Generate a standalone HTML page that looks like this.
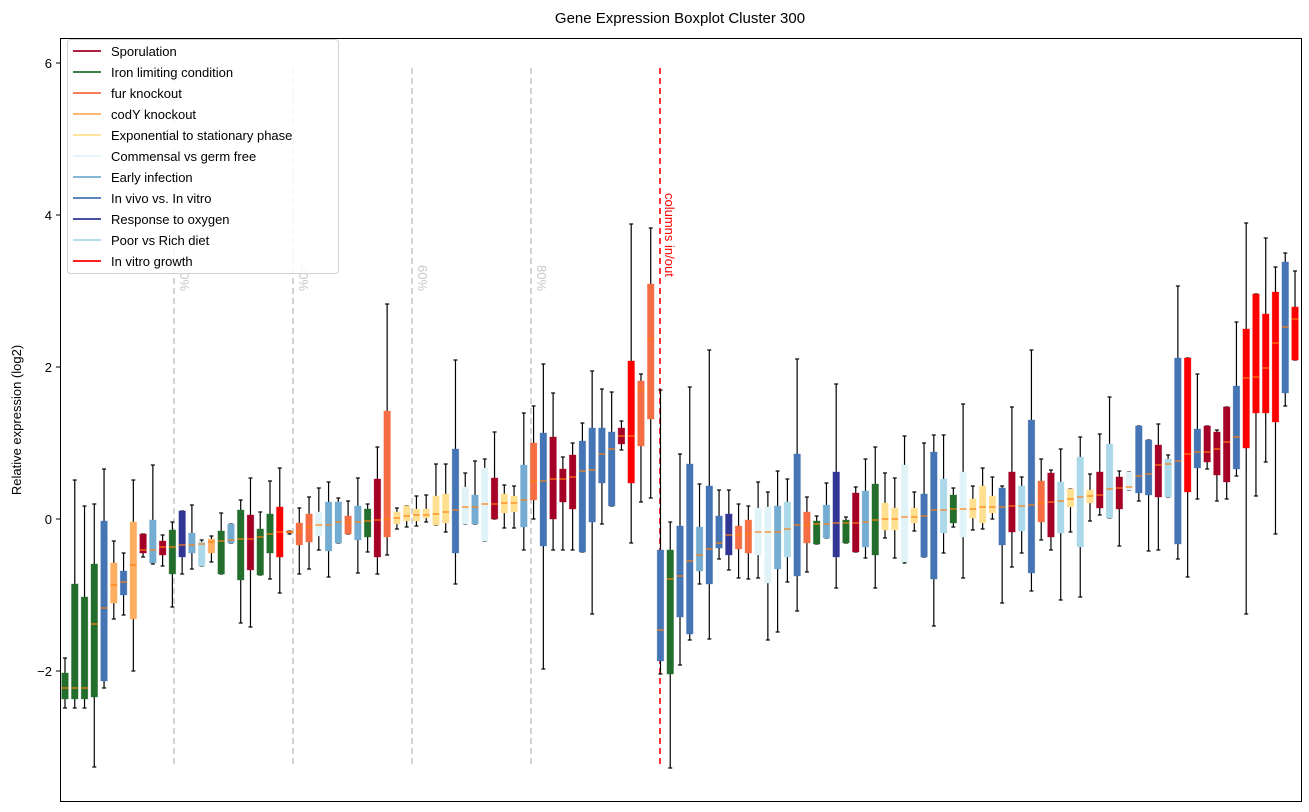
<!DOCTYPE html>
<html><head><meta charset="utf-8"><style>
html,body{margin:0;padding:0;background:#fff;}
svg{display:block;font-family:"Liberation Sans","DejaVu Sans",sans-serif;}
</style></head><body>
<svg id="s" width="1309" height="812" viewBox="0 0 1309 812" xmlns="http://www.w3.org/2000/svg">
<rect width="1309" height="812" fill="#fff"/>
<text x="680" y="23" font-size="15" text-anchor="middle" fill="#000">Gene Expression Boxplot Cluster 300</text>
<text transform="translate(21,420) rotate(-90)" font-size="13" text-anchor="middle">Relative expression (log2)</text>
<g id="g"></g>
<rect x="60.5" y="38.5" width="1241" height="763" fill="none" stroke="#000" stroke-width="1"/>
<g font-size="13" text-anchor="end">
<line x1="56" y1="63" x2="60" y2="63" stroke="#000"/><text x="52" y="68">6</text>
<line x1="56" y1="215" x2="60" y2="215" stroke="#000"/><text x="52" y="220">4</text>
<line x1="56" y1="367" x2="60" y2="367" stroke="#000"/><text x="52" y="372">2</text>
<line x1="56" y1="519" x2="60" y2="519" stroke="#000"/><text x="52" y="524">0</text>
<line x1="56" y1="671" x2="60" y2="671" stroke="#000"/><text x="52" y="676">−2</text>
</g>
<g id="leg"></g>
</svg>
<script>
var C={S:"#a50026",G:"#236e2c",F:"#f46d43",C:"#fdae61",E:"#fee090",P:"#e0f3f8",K:"#74add1",B:"#4575b4",N:"#313695",L:"#abd9e9",R:"#ff0000"};
var D="G 658 673 688 699 708|G 480 584 688 699 708|G 506 597 688 699 708|G 504 564 624 697 767|B 469 521 608 681 688|C 541 563 585 603 619|B 553 571 582 595 615|C 480 522 565 619 671|S 534 534 550 553 557|K 465 520 550 563 564|S 535 541 547 555 566|G 522 530 547 574 607|N 511 511 545 557 574|K 505 533 545 553 569|L 540 542 544 566 566|C 536 539 542 553 562|G 513 531 541 574 574|K 524 524 540 543 543|G 500 510 539 580 623|S 478 515 539 570 627|G 512 529 537 575 575|G 481 514 534 553 579|R 468 507 532 557 593|F 531 531 532 533 534|F 508 523 532 545 574|F 497 514 527 542 569|P 488 512 525 536 550|K 482 502 525 551 577|K 498 502 522 543 543|F 501 516 522 534 534|K 478 506 522 540 573|G 504 509 521 537 552|S 447 479 520 557 574|F 304 411 519 537 555|E 508 512 518 524 529|E 506 506 516 521 527|E 496 509 515 521 526|E 495 509 515 518 522|E 464 496 514 525 525|E 464 494 512 523 532|B 360 449 510 553 584|P 473 487 507 524 524|K 461 495 507 524 524|P 459 468 504 541 541|S 432 478 504 519 519|E 485 494 503 513 528|E 486 496 503 512 528|K 413 465 500 527 550|F 406 443 481 500 519|B 364 433 481 546 669|S 393 437 479 519 550|S 457 469 479 502 550|S 443 455 477 509 550|B 423 441 471 552 552|B 371 428 470 522 614|B 389 428 454 483 524|B 392 432 449 506 506|S 421 428 436 444 450|R 224 361 436 483 543|F 374 381 390 446 502|F 228 284 339 419 498|B 390 550 630 661 674|G 522 550 579 674 768|B 454 526 576 617 665|B 387 464 561 634 640|K 484 527 555 571 584|B 350 486 549 584 639|B 490 516 543 548 559|N 490 514 535 555 570|F 504 526 535 549 578|F 506 520 534 553 579|P 482 508 532 555 578|P 492 507 532 583 640|K 471 506 532 569 632|L 479 502 529 557 582|B 359 454 525 576 611|F 497 512 525 543 572|G 516 521 524 544 544|K 483 505 524 538 538|N 384 472 523 557 588|G 517 520 523 543 543|S 487 493 523 552 552|K 459 491 522 547 558|G 447 484 520 555 588|E 473 503 519 530 538|E 478 508 519 530 558|P 436 465 517 562 563|E 492 508 517 523 531|B 443 494 516 557 557|B 435 452 510 579 626|L 435 479 510 533 553|G 488 495 509 523 527|P 404 472 509 537 578|E 486 499 509 518 530|E 468 486 507 523 529|E 477 496 507 513 519|B 486 488 507 545 603|S 407 472 506 532 567|L 477 486 506 531 553|B 350 420 505 573 591|F 459 481 503 522 540|S 470 473 502 537 550|L 449 482 501 533 600|E 489 489 499 507 532|L 437 457 497 547 597|E 474 490 496 503 521|S 434 472 495 508 515|L 397 444 489 518 518|S 471 477 488 509 546|P 472 472 487 490 490|B 426 426 476 493 501|B 440 440 474 495 551|S 424 445 465 497 550|L 455 459 464 497 497|B 286 358 461 544 559|R 358 358 454 492 577|B 374 429 452 468 499|S 426 426 452 462 469|S 430 432 449 475 501|S 407 407 442 482 499|B 322 386 437 469 476|R 223 329 378 448 614|R 294 294 377 413 496|R 238 314 368 413 462|R 267 292 343 422 534|B 253 262 327 393 406|R 271 307 319 360 360";
var h="";
[174,293,412,531].forEach(function(x,i){
 h+='<line x1="'+x+'" y1="68" x2="'+x+'" y2="767" stroke="#c8c8c8" stroke-width="1.6" stroke-dasharray="6,4"/>';
 h+='<text transform="translate('+(x+6)+',265) rotate(90)" font-size="13" fill="#c8c8c8">'+((i+1)*20)+'%</text>';
});
h+='<line x1="660" y1="68" x2="660" y2="767" stroke="#ff0000" stroke-width="1.6" stroke-dasharray="6,4"/>';
h+='<text transform="translate(665,193) rotate(90)" font-size="13" fill="#ff0000">columns in/out</text>';
D.split("|").forEach(function(r,i){
 var a=r.split(" "),c=C[a[0]],wt=+a[1],bt=+a[2],md=+a[3],bb=+a[4],wb=+a[5];
 var x=65+i*9.762;
 h+='<line x1="'+x+'" y1="'+wt+'" x2="'+x+'" y2="'+wb+'" stroke="#000" stroke-width="1.2"/>';
 h+='<line x1="'+(x-2)+'" y1="'+wt+'" x2="'+(x+2)+'" y2="'+wt+'" stroke="#000" stroke-width="1.2"/>';
 h+='<line x1="'+(x-2)+'" y1="'+wb+'" x2="'+(x+2)+'" y2="'+wb+'" stroke="#000" stroke-width="1.2"/>';
 h+='<rect x="'+(x-3.3)+'" y="'+bt+'" width="6.6" height="'+Math.max(bb-bt,1.5)+'" fill="'+c+'" stroke="'+c+'" stroke-opacity="0.4" stroke-width="0.8"/>';
 h+='<line x1="'+(x-3.3)+'" y1="'+md+'" x2="'+(x+3.3)+'" y2="'+md+'" stroke="#ff7f0e" stroke-width="1.2"/>';
});
document.getElementById("g").innerHTML=h;
var L=[["Sporulation","S"],["Iron limiting condition","G"],["fur knockout","F"],["codY knockout","C"],["Exponential to stationary phase","E"],["Commensal vs germ free","P"],["Early infection","K"],["In vivo vs. In vitro","B"],["Response to oxygen","N"],["Poor vs Rich diet","L"],["In vitro growth","R"]];
var g='<rect x="67.5" y="39.5" width="271" height="234" rx="3" fill="#fff" fill-opacity="0.85" stroke="#d0d0d0"/>';
L.forEach(function(e,i){var y=51+i*21;
 g+='<line x1="73" y1="'+y+'" x2="101" y2="'+y+'" stroke="'+C[e[1]]+'" stroke-width="1.8"/>';
 g+='<text x="111" y="'+(y+5)+'" font-size="13">'+e[0]+'</text>';});
document.getElementById("leg").innerHTML=g;
</script>
</body></html>
